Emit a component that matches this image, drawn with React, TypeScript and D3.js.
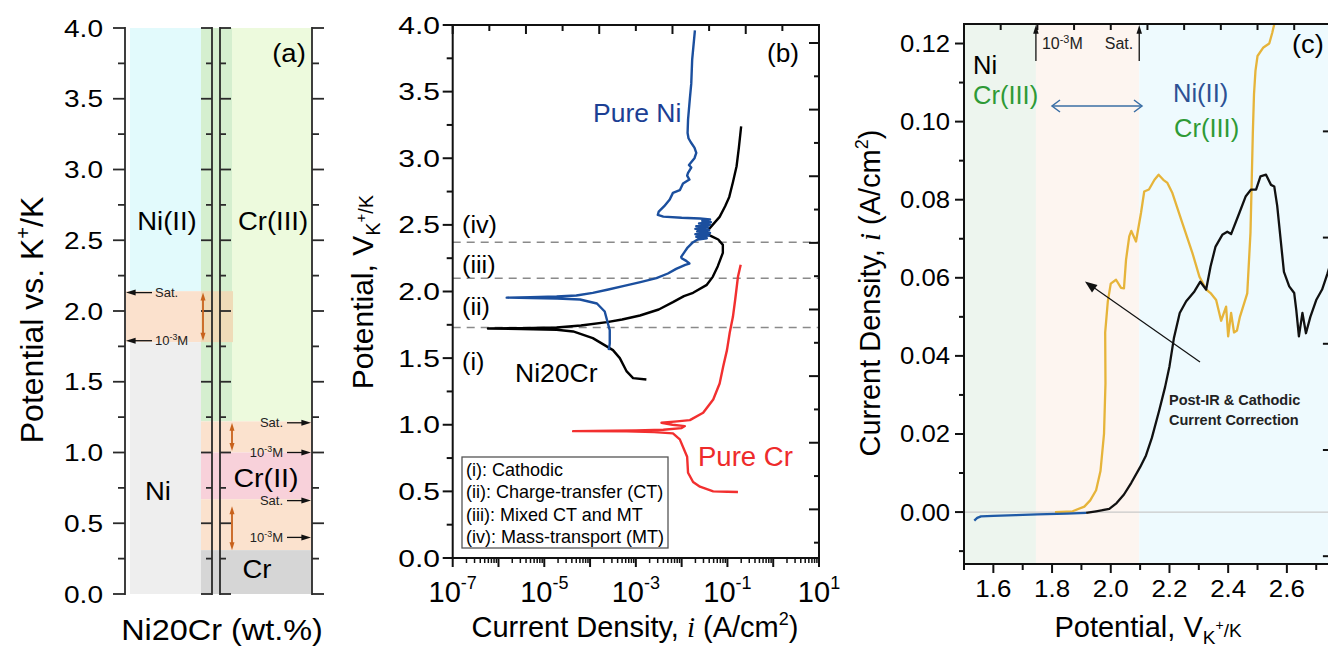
import React from 'react';
import * as d3 from 'd3';

const FONT = "'Liberation Sans', Arial, Helvetica, sans-serif";

// ---------------- Panel (a) data ----------------
const aMajorTicks = [0, 0.5, 1, 1.5, 2, 2.5, 3, 3.5, 4];
const aMinorTicks = [0.25, 0.75, 1.25, 1.75, 2.25, 2.75, 3.25, 3.75];
const niBands = [
  { key: 'ni2', lo: 2.14, hi: 4.0 },
  { key: 'mix', lo: 1.78, hi: 2.14 },
  { key: 'ni', lo: 0, hi: 1.78 },
];
const crBands = [
  { key: 'cr3', lo: 1.22, hi: 4.0 },
  { key: 'mix', lo: 1.0, hi: 1.22 },
  { key: 'cr2', lo: 0.67, hi: 1.0 },
  { key: 'mix', lo: 0.31, hi: 0.67 },
  { key: 'cr', lo: 0, hi: 0.31 },
];
const niMarkers = [
  { label: 'Sat.', v: 2.13 },
  { label: '10-3M', v: 1.79 },
];
const crMarkers = [
  { label: 'Sat.', v: 1.21 },
  { label: '10-3M', v: 1.0 },
  { label: 'Sat.', v: 0.66 },
  { label: '10-3M', v: 0.4 },
];
const niRanges = [[1.79, 2.13]];
const crRanges = [[1.01, 1.21], [0.31, 0.62]];

// ---------------- Panel (b) data: [log10(i), V] ----------------
const bDashed = [2.37, 2.1, 1.73];
const bPureNi = [
  [-3.59, 1.56], [-3.57, 1.61], [-3.57, 1.71], [-3.61, 1.76], [-3.68, 1.85], [-3.85, 1.91],
  [-4.22, 1.94], [-4.72, 1.948], [-5.3, 1.951], [-5.82, 1.954], [-5.3, 1.957], [-4.73, 1.962],
  [-4.3, 1.97], [-3.94, 1.99], [-3.6, 2.015], [-3.28, 2.04], [-2.9, 2.07], [-2.55, 2.1],
  [-2.3, 2.135], [-2.12, 2.17], [-1.92, 2.2], [-1.83, 2.21], [-1.9, 2.23], [-2.0, 2.25],
  [-2.01, 2.26], [-1.95, 2.29], [-1.87, 2.33], [-1.75, 2.37], [-1.65, 2.39],
  [-1.45, 2.4], [-1.68, 2.41], [-1.4, 2.42], [-1.7, 2.43], [-1.38, 2.44], [-1.66, 2.45],
  [-1.4, 2.46], [-1.7, 2.47], [-1.42, 2.48], [-1.68, 2.49], [-1.38, 2.5], [-1.62, 2.51],
  [-1.36, 2.52], [-1.55, 2.53], [-1.38, 2.54], [-1.6, 2.548], [-2.0, 2.553], [-2.4, 2.562],
  [-2.52, 2.575], [-2.5, 2.6], [-2.38, 2.64], [-2.26, 2.69], [-2.19, 2.74], [-2.04, 2.76],
  [-1.97, 2.81], [-1.83, 2.84], [-1.88, 2.87], [-1.86, 2.89], [-1.79, 2.93], [-1.84, 2.95],
  [-1.72, 3.0], [-1.68, 3.04], [-1.72, 3.08], [-1.8, 3.12], [-1.85, 3.15], [-1.87, 3.19],
  [-1.86, 3.29], [-1.82, 3.45], [-1.79, 3.56], [-1.77, 3.74], [-1.71, 3.96],
];
const bNi20Cr = [
  [-2.77, 1.34], [-3.06, 1.35], [-3.2, 1.4], [-3.35, 1.5], [-3.5, 1.56], [-3.94, 1.65],
  [-4.37, 1.7], [-4.73, 1.713], [-5.5, 1.718], [-6.23, 1.722], [-5.5, 1.725], [-4.73, 1.73],
  [-4.2, 1.745], [-3.63, 1.77], [-3.3, 1.79], [-2.91, 1.82], [-2.5, 1.865], [-2.19, 1.92],
  [-1.95, 1.965], [-1.75, 1.99], [-1.45, 2.05], [-1.32, 2.11], [-1.21, 2.19], [-1.1, 2.29],
  [-1.1, 2.35], [-1.2, 2.39], [-1.32, 2.41], [-1.5, 2.44], [-1.4, 2.47], [-1.17, 2.56],
  [-1.05, 2.64], [-0.96, 2.71], [-0.88, 2.82], [-0.8, 2.94], [-0.75, 3.08], [-0.7, 3.24],
];
const bPureCr = [
  [-0.77, 0.495], [-1.0, 0.497], [-1.31, 0.5], [-1.6, 0.535], [-1.75, 0.57], [-1.86, 0.64],
  [-1.88, 0.76], [-2.04, 0.89], [-2.19, 0.935], [-2.6, 0.945], [-3.2, 0.95], [-4.37, 0.952],
  [-3.5, 0.955], [-3.0, 0.958], [-2.4, 0.962], [-2.0, 0.975], [-1.93, 0.99], [-2.2, 1.0],
  [-2.44, 1.015], [-2.1, 1.025], [-1.82, 1.035], [-1.53, 1.09], [-1.31, 1.19], [-1.17, 1.31],
  [-1.09, 1.44], [-1.01, 1.56], [-0.95, 1.69], [-0.88, 1.81], [-0.83, 1.94], [-0.77, 2.11],
  [-0.71, 2.2],
];
const bLegend = ['(i): Cathodic', '(ii): Charge-transfer (CT)', '(iii): Mixed CT and MT', '(iv): Mass-transport (MT)'];
const bRegionLabels = [
  { label: '(iv)', v: 2.5 },
  { label: '(iii)', v: 2.2 },
  { label: '(ii)', v: 1.88 },
  { label: '(i)', v: 1.47 },
];
const bDecades = [-7, -6, -5, -4, -3, -2, -1, 0, 1];
const bLabelDecades = [-7, -5, -3, -1, 1];

// ---------------- Panel (c) data: [V, i] ----------------
const cBands = [
  { key: 'ni', lo: 1.5, hi: 1.745 },
  { key: 'mix', lo: 1.745, hi: 2.097 },
  { key: 'ni2', lo: 2.097, hi: 2.75 },
];
const cMarkers = [
  { label: '10-3M', v: 1.745 },
  { label: 'Sat.', v: 2.097 },
];
const cBlue = [
  [1.535, -0.0022], [1.545, -0.0015], [1.558, -0.0011], [1.6, -0.001], [1.677, -0.0008],
  [1.75, -0.0006], [1.85, -0.0004], [1.916, -0.0002],
];
const cGold = [
  [1.81, 0.0], [1.87, 0.0002], [1.91, 0.0014], [1.93, 0.003], [1.95, 0.0056], [1.965, 0.0105],
  [1.977, 0.02], [1.982, 0.033], [1.981, 0.046], [1.99, 0.054], [2.0, 0.0585], [2.018, 0.0595],
  [2.035, 0.0574], [2.045, 0.0573], [2.052, 0.0646], [2.063, 0.0706], [2.07, 0.072],
  [2.086, 0.0693], [2.103, 0.0766], [2.114, 0.0821], [2.13, 0.0826], [2.149, 0.0851],
  [2.163, 0.0864], [2.179, 0.0851], [2.193, 0.0843], [2.21, 0.0817], [2.244, 0.074],
  [2.278, 0.0664], [2.302, 0.0603], [2.325, 0.057], [2.34, 0.0561], [2.359, 0.0543],
  [2.376, 0.049], [2.393, 0.0526], [2.4, 0.045], [2.41, 0.051], [2.42, 0.046], [2.43, 0.0465],
  [2.44, 0.05], [2.465, 0.056], [2.476, 0.0715], [2.48, 0.084], [2.484, 0.097], [2.488, 0.107],
  [2.493, 0.113], [2.5, 0.1168], [2.52, 0.119], [2.54, 0.12], [2.55, 0.1227], [2.562, 0.1265],
];
const cBlack = [
  [1.916, -0.0002], [1.95, 0.0002], [1.995, 0.0008], [2.02, 0.0023], [2.045, 0.0045],
  [2.07, 0.0075], [2.1, 0.0115], [2.12, 0.0145], [2.14, 0.019], [2.165, 0.026], [2.185, 0.032],
  [2.2, 0.0373], [2.215, 0.0445], [2.235, 0.051], [2.257, 0.054], [2.285, 0.0565],
  [2.305, 0.059], [2.325, 0.057], [2.34, 0.0629], [2.357, 0.068], [2.38, 0.071], [2.397, 0.0718],
  [2.41, 0.0712], [2.438, 0.0766], [2.46, 0.0809], [2.478, 0.0826], [2.495, 0.0826],
  [2.51, 0.086], [2.529, 0.0864], [2.546, 0.0838], [2.557, 0.0834], [2.567, 0.0785],
  [2.59, 0.0615], [2.608, 0.0578], [2.625, 0.0561], [2.632, 0.0518], [2.641, 0.045],
  [2.653, 0.051], [2.665, 0.0458], [2.68, 0.05], [2.7, 0.0543], [2.72, 0.057], [2.738, 0.061],
  [2.75, 0.064],
];
const cYMajor = [0, 0.02, 0.04, 0.06, 0.08, 0.1, 0.12];
const cYMinor = [-0.01, 0.01, 0.03, 0.05, 0.07, 0.09, 0.11];
const cXMajor = [1.6, 1.8, 2.0, 2.2, 2.4, 2.6];
const cXMinor = [1.5, 1.7, 1.9, 2.1, 2.3, 2.5, 2.7];

// ---------------- helpers ----------------
function ST({ x, y, sx = 1, rot = 0, anchor = 'start', size, fill = '#000', weight = 'normal', children }: any) {
  return (
    <g transform={`translate(${x},${y}) rotate(${rot}) scale(${sx},1)`}>
      <text textAnchor={anchor} fontSize={size} fill={fill} fontWeight={weight} fontFamily={FONT}>
        {children}
      </text>
    </g>
  );
}

function Conc({ label, sup }: any) {
  if (label === '10-3M') {
    return (
      <>
        <tspan>10</tspan>
        <tspan dy={-sup} fontSize="0.68em">-3</tspan>
        <tspan dy={sup}>M</tspan>
      </>
    );
  }
  return <tspan>{label}</tspan>;
}

function ArrowHead({ x, y, dir, size = 6, fill = '#000' }: any) {
  let p = '';
  if (dir === 'l') p = `M${x},${y} L${x + size * 1.6},${y - size / 2} L${x + size * 1.6},${y + size / 2} Z`;
  if (dir === 'r') p = `M${x},${y} L${x - size * 1.6},${y - size / 2} L${x - size * 1.6},${y + size / 2} Z`;
  if (dir === 'u') p = `M${x},${y} L${x - size / 2},${y + size * 1.6} L${x + size / 2},${y + size * 1.6} Z`;
  if (dir === 'd') p = `M${x},${y} L${x - size / 2},${y - size * 1.6} L${x + size / 2},${y - size * 1.6} Z`;
  return <path d={p} fill={fill} />;
}

// ---------------- Panel (a) ----------------
function PanelA() {
  const yA = d3.scaleLinear().domain([0, 4]).range([594, 28]);
  const AX = 125, L1 = 212, L2 = 220, RX = 312;
  const NI0 = 130, S0 = 201, S1 = 232;
  const niCol: any = { ni2: '#e2fafc', mix: '#fbe1cd', ni: '#eeeeee' };
  const crCol: any = { cr3: '#edfadd', mix: '#fbe2ce', cr2: '#f8d1da', cr: '#d6d6d6' };
  const orange = '#c8621c';
  const ax = '#2a2a2a';
  const fmt = d3.format('.1f');
  return (
    <g>
      {crBands.map((b, i) =>
        b.key === 'cr3' ? (
          <g key={'c' + i}>
            <rect x={S1} y={yA(b.hi)} width={RX - S1} height={yA(b.lo) - yA(b.hi)} fill={crCol.cr3} />
            <rect x={S0} y={yA(b.hi)} width={S1 - S0} height={yA(b.lo) - yA(b.hi)} fill="#d5efcf" />
          </g>
        ) : (
          <rect key={'c' + i} x={S0} y={yA(b.hi)} width={RX - S0} height={yA(b.lo) - yA(b.hi)} fill={crCol[b.key]} />
        )
      )}
      {niBands.map((b, i) =>
        b.key === 'mix' ? (
          <g key={'n' + i}>
            <rect x={AX + 1} y={yA(b.hi)} width={S0 - AX - 1} height={yA(b.lo) - yA(b.hi)} fill={niCol.mix} />
            <rect x={S0} y={yA(b.hi)} width={S1 - S0 + 1} height={yA(b.lo) - yA(b.hi)} fill="#efdbb8" />
          </g>
        ) : (
          <rect key={'n' + i} x={NI0} y={yA(b.hi)} width={S0 - NI0} height={yA(b.lo) - yA(b.hi)} fill={niCol[b.key]} />
        )
      )}
      {[AX, L1, L2, RX].map((x) => (
        <line key={x} x1={x} x2={x} y1={yA(4) - 1} y2={yA(0) + 1} stroke={ax} strokeWidth={1.8} />
      ))}
      {aMajorTicks.map((v) => (
        <g key={'M' + v}>
          <line x1={AX - 12} x2={AX} y1={yA(v)} y2={yA(v)} stroke={ax} strokeWidth={1.8} />
          <line x1={L1 - 11} x2={L1} y1={yA(v)} y2={yA(v)} stroke={ax} strokeWidth={1.8} />
          <line x1={L2} x2={L2 + 11} y1={yA(v)} y2={yA(v)} stroke={ax} strokeWidth={1.8} />
          <line x1={RX} x2={RX + 12} y1={yA(v)} y2={yA(v)} stroke={ax} strokeWidth={1.8} />
          <ST x={103} y={yA(v) + 8.5} sx={1.22} anchor="end" size={23}>{fmt(v)}</ST>
        </g>
      ))}
      {aMinorTicks.map((v) => (
        <g key={'m' + v}>
          <line x1={AX - 7} x2={AX} y1={yA(v)} y2={yA(v)} stroke={ax} strokeWidth={1.8} />
          <line x1={L1 - 6} x2={L1} y1={yA(v)} y2={yA(v)} stroke={ax} strokeWidth={1.8} />
          <line x1={L2} x2={L2 + 6} y1={yA(v)} y2={yA(v)} stroke={ax} strokeWidth={1.8} />
          <line x1={RX} x2={RX + 7} y1={yA(v)} y2={yA(v)} stroke={ax} strokeWidth={1.8} />
        </g>
      ))}
      {niMarkers.map((m, i) => (
        <g key={'nm' + i}>
          <line x1={AX + 6} x2={152} y1={yA(m.v)} y2={yA(m.v)} stroke="#111" strokeWidth={1.3} />
          <ArrowHead x={AX + 1} y={yA(m.v)} dir="l" size={6} fill="#111" />
          <text x={155} y={yA(m.v) + 4.5} fontSize={13} fontFamily={FONT} fill="#222">
            <Conc label={m.label} sup={5} />
          </text>
        </g>
      ))}
      {crMarkers.map((m, i) => (
        <g key={'cm' + i}>
          <line x1={287} x2={RX - 6} y1={yA(m.v)} y2={yA(m.v)} stroke="#111" strokeWidth={1.3} />
          <ArrowHead x={RX - 1} y={yA(m.v)} dir="r" size={6} fill="#111" />
          <text x={283} y={yA(m.v) + 4.5} fontSize={13} fontFamily={FONT} fill="#222" textAnchor="end">
            <Conc label={m.label} sup={5} />
          </text>
        </g>
      ))}
      {niRanges.map((r, i) => (
        <g key={'nr' + i}>
          <line x1={203} x2={203} y1={yA(r[1]) + 6} y2={yA(r[0]) - 6} stroke={orange} strokeWidth={1.8} />
          <ArrowHead x={203} y={yA(r[1])} dir="u" size={5} fill={orange} />
          <ArrowHead x={203} y={yA(r[0])} dir="d" size={5} fill={orange} />
        </g>
      ))}
      {crRanges.map((r, i) => (
        <g key={'cr' + i}>
          <line x1={232} x2={232} y1={yA(r[1]) + 6} y2={yA(r[0]) - 6} stroke={orange} strokeWidth={1.8} />
          <ArrowHead x={232} y={yA(r[1])} dir="u" size={5} fill={orange} />
          <ArrowHead x={232} y={yA(r[0])} dir="d" size={5} fill={orange} />
        </g>
      ))}
      <ST x={167} y={230} sx={1.1} anchor="middle" size={25}>Ni(II)</ST>
      <ST x={273} y={230} sx={1.1} anchor="middle" size={25}>Cr(III)</ST>
      <ST x={158} y={500} sx={1.1} anchor="middle" size={25}>Ni</ST>
      <ST x={266} y={487} sx={1.1} anchor="middle" size={26}>Cr(II)</ST>
      <ST x={257} y={578} sx={1.1} anchor="middle" size={25}>Cr</ST>
      <ST x={289} y={62} sx={1.1} anchor="middle" size={25}>(a)</ST>
      <ST x={222} y={640} sx={1.08} anchor="middle" size={30}>Ni20Cr (wt.%)</ST>
      <g transform="translate(43,320) rotate(-90)">
        <text textAnchor="middle" fontSize={32} fontFamily={FONT}>
          Potential vs. K<tspan dy={-13} fontSize={20}>+</tspan><tspan dy={13}>/K</tspan>
        </text>
      </g>
    </g>
  );
}

// ---------------- Panel (b) ----------------
function PanelB() {
  const X0 = 452.7, X1 = 819, Y0 = 25, Y1 = 558;
  const xB = d3.scaleLog().domain([1e-7, 10]).range([X0, X1]);
  const yB = d3.scaleLinear().domain([0, 4]).range([Y1, Y0]);
  const line = d3.line<number[]>().x((d) => xB(Math.pow(10, d[0]))).y((d) => yB(d[1]));
  const fmt = d3.format('.1f');
  const majorV = d3.range(0, 4.01, 0.5);
  const minorV = d3.range(0.25, 4, 0.5);
  const rightV = d3.range(3.865, 0, -0.25);
  const topT = d3.range(-7, 1.01, 0.8);
  const minors: number[] = [];
  bDecades.forEach((e) => {
    if (e < 1) for (let k = 2; k <= 9; k++) minors.push(k * Math.pow(10, e));
  });
  return (
    <g>
      <defs>
        <clipPath id="clipB">
          <rect x={X0} y={Y0} width={X1 - X0} height={Y1 - Y0} />
        </clipPath>
      </defs>
      {bDashed.map((v) => (
        <line key={v} x1={X0} x2={X1} y1={yB(v)} y2={yB(v)} stroke="#8a8a8a" strokeWidth={1.4} strokeDasharray="8,6" />
      ))}
      <g clipPath="url(#clipB)" fill="none" strokeWidth={2.4} strokeLinejoin="round">
        <path d={line(bPureCr as any) || ''} stroke="#f22f2f" />
        <path d={line(bNi20Cr as any) || ''} stroke="#000" />
        <path d={line(bPureNi as any) || ''} stroke="#1b4f9e" />
      </g>
      <rect x={X0} y={Y0} width={X1 - X0} height={Y1 - Y0} fill="none" stroke="#111" strokeWidth={2} />
      {majorV.map((v) => (
        <g key={'M' + v}>
          <line x1={X0 - 10} x2={X0} y1={yB(v)} y2={yB(v)} stroke="#111" strokeWidth={2} />
          <ST x={440} y={yB(v) + 8.5} sx={1.25} anchor="end" size={24}>{fmt(v)}</ST>
        </g>
      ))}
      {minorV.map((v) => (
        <line key={'m' + v} x1={X0 - 6} x2={X0} y1={yB(v)} y2={yB(v)} stroke="#111" strokeWidth={2} />
      ))}
      {rightV.map((v, i) => (
        <line key={'r' + i} x1={X1 - (i % 2 === 0 ? 10 : 5)} x2={X1} y1={yB(v)} y2={yB(v)} stroke="#111" strokeWidth={2} />
      ))}
      {topT.map((e, i) => (
        <line key={'t' + i} x1={xB(Math.pow(10, e))} x2={xB(Math.pow(10, e))} y1={Y0} y2={Y0 + (i % 2 === 0 ? 9 : 6)} stroke="#111" strokeWidth={2} />
      ))}
      {bDecades.map((e) => (
        <line key={'d' + e} x1={xB(Math.pow(10, e))} x2={xB(Math.pow(10, e))} y1={Y1} y2={Y1 + 9} stroke="#111" strokeWidth={2} />
      ))}
      {minors.map((m, i) => (
        <line key={'mn' + i} x1={xB(m)} x2={xB(m)} y1={Y1} y2={Y1 + 5} stroke="#111" strokeWidth={1.5} />
      ))}
      {bLabelDecades.map((e) => (
        <text key={'l' + e} x={xB(Math.pow(10, e))} y={602} textAnchor="middle" fontSize={29} fontFamily={FONT}>
          10<tspan dy={-13} fontSize={18}>{e}</tspan>
        </text>
      ))}
      {bRegionLabels.map((r) => (
        <ST key={r.label} x={462} y={yB(r.v) + 8} sx={1.05} size={24}>{r.label}</ST>
      ))}
      <ST x={593} y={122} sx={1.02} size={26} fill="#1c3f94">Pure Ni</ST>
      <ST x={515} y={382} sx={1.02} size={26}>Ni20Cr</ST>
      <ST x={698} y={466} sx={1.02} size={27} fill="#ee2b2b">Pure Cr</ST>
      <ST x={767} y={62} sx={1.05} size={25}>(b)</ST>
      <rect x={462} y={457} width={206} height={91} fill="#fff" stroke="#555" strokeWidth={1.3} />
      {bLegend.map((t, i) => (
        <ST key={t} x={466} y={476 + i * 22.3} sx={1.03} size={17.5}>{t}</ST>
      ))}
      <text x={635} y={637} textAnchor="middle" fontSize={29} fontFamily={FONT}>
        Current Density, <tspan fontFamily="'Liberation Serif', serif" fontStyle="italic">i</tspan> (A/cm<tspan dy={-12} fontSize={18}>2</tspan><tspan dy={12}>)</tspan>
      </text>
      <g transform="translate(373,292) rotate(-90)">
        <text textAnchor="middle" fontSize={30} fontFamily={FONT}>
          Potential, V<tspan dy={7} fontSize={20}>K</tspan><tspan dy={-14} fontSize={15}>+</tspan><tspan dy={7} fontSize={20}>/K</tspan>
        </text>
      </g>
    </g>
  );
}

// ---------------- Panel (c) ----------------
function PanelC() {
  const X0 = 964, X1 = 1330.9, Y0 = 24, Y1 = 564;
  const xC = d3.scaleLinear().domain([1.5, 2.75]).range([X0, X1]);
  const yC = d3.scaleLinear().domain([-0.0133, 0.125]).range([Y1, Y0]);
  const line = d3.line<number[]>().x((d) => xC(d[0])).y((d) => yC(d[1]));
  const bandCol: any = { ni: '#edf5ee', mix: '#fdf5f0', ni2: '#eefafe' };
  const topT = d3.range(1.5, 2.76, 0.125);
  const rightT = d3.range(0.0975, -0.013, -0.0272);
  const green = '#2e9a36';
  const blue = '#2c5194';
  return (
    <g>
      <defs>
        <clipPath id="clipC">
          <rect x={X0} y={Y0} width={X1 - X0} height={Y1 - Y0} />
        </clipPath>
      </defs>
      {cBands.map((b) => (
        <rect key={b.key} x={xC(b.lo)} y={Y0} width={xC(b.hi) - xC(b.lo)} height={Y1 - Y0} fill={bandCol[b.key]} />
      ))}
      <line x1={X0} x2={X1} y1={yC(0)} y2={yC(0)} stroke="#c9c9c9" strokeWidth={1.3} />
      <g clipPath="url(#clipC)" fill="none" strokeWidth={2.3} strokeLinejoin="round">
        <path d={line(cGold as any) || ''} stroke="#e6b43a" />
        <path d={line(cBlack as any) || ''} stroke="#111" />
        <path d={line(cBlue as any) || ''} stroke="#1f5aa6" />
      </g>
      <rect x={X0} y={Y0} width={X1 - X0} height={Y1 - Y0} fill="none" stroke="#111" strokeWidth={2} />
      {cYMajor.map((v) => (
        <g key={'M' + v}>
          <line x1={X0 - 9} x2={X0} y1={yC(v)} y2={yC(v)} stroke="#111" strokeWidth={2} />
          <ST x={950} y={yC(v) + 8.5} sx={1.07} anchor="end" size={24}>{d3.format('.2f')(v)}</ST>
        </g>
      ))}
      {cYMinor.map((v) => (
        <line key={'m' + v} x1={X0 - 5} x2={X0} y1={yC(v)} y2={yC(v)} stroke="#111" strokeWidth={2} />
      ))}
      {cXMajor.map((v) => (
        <g key={'X' + v}>
          <line x1={xC(v)} x2={xC(v)} y1={Y1} y2={Y1 + 9} stroke="#111" strokeWidth={2} />
          <ST x={xC(v)} y={597} sx={1.08} anchor="middle" size={24}>{d3.format('.1f')(v)}</ST>
        </g>
      ))}
      {cXMinor.map((v) => (
        <line key={'x' + v} x1={xC(v)} x2={xC(v)} y1={Y1} y2={Y1 + 6} stroke="#111" strokeWidth={2} />
      ))}
      {topT.map((v, i) => (
        <line key={'t' + i} x1={xC(v)} x2={xC(v)} y1={Y0} y2={Y0 + 6} stroke="#111" strokeWidth={2} />
      ))}
      {rightT.map((v, i) => (
        <line key={'r' + i} x1={X1 - 8} x2={X1} y1={yC(v)} y2={yC(v)} stroke="#111" strokeWidth={2} />
      ))}
      {cMarkers.map((m, i) => (
        <g key={'cm' + i}>
          <line x1={xC(m.v)} x2={xC(m.v)} y1={61} y2={Y0 + 8} stroke="#111" strokeWidth={1.3} />
          <ArrowHead x={xC(m.v)} y={Y0 + 1} dir="u" size={5.5} fill="#111" />
          <text x={i === 0 ? xC(m.v) + 6 : xC(m.v) - 6} y={49} textAnchor={i === 0 ? 'start' : 'end'} fontSize={16} fontFamily={FONT} fill="#222">
            <Conc label={m.label} sup={6} />
          </text>
        </g>
      ))}
      <ST x={973} y={74} sx={1.02} size={25}>Ni</ST>
      <ST x={973} y={104} sx={1.02} size={25} fill={green}>Cr(III)</ST>
      <ST x={1173} y={102} sx={1.02} size={25} fill={blue}>Ni(II)</ST>
      <ST x={1174} y={137} sx={1.02} size={25} fill={green}>Cr(III)</ST>
      <ST x={1292} y={53} sx={1.05} size={26}>(c)</ST>
      <g stroke="#3a6ea5" strokeWidth={1.5} fill="none">
        <line x1={1052} x2={1142} y1={106} y2={106} />
        <path d="M1060,100 L1052,106 L1060,112" />
        <path d="M1134,100 L1142,106 L1134,112" />
      </g>
      <line x1={1200} y1={362} x2={1093} y2={287} stroke="#111" strokeWidth={1.2} />
      <path d="M1085,281.5 L1097.5,285 L1092,292.5 Z" fill="#111" />
      <ST x={1169} y={405} size={14.5} weight="bold" fill="#222">Post-IR &amp; Cathodic</ST>
      <ST x={1169} y={425} size={14.5} weight="bold" fill="#222">Current Correction</ST>
      <text x={1148} y={637} textAnchor="middle" fontSize={29} fontFamily={FONT}>
        Potential, V<tspan dy={7} fontSize={19}>K</tspan><tspan dy={-14} fontSize={14}>+</tspan><tspan dy={7} fontSize={19}>/K</tspan>
      </text>
      <g transform="translate(880,293) rotate(-90)">
        <text textAnchor="middle" fontSize={29} fontFamily={FONT}>
          Current Density, <tspan fontFamily="'Liberation Serif', serif" fontStyle="italic">i</tspan> (A/cm<tspan dy={-12} fontSize={18}>2</tspan><tspan dy={12}>)</tspan>
        </text>
      </g>
    </g>
  );
}

export default function App() {
  return (
    <svg
      width={1328}
      height={647}
      viewBox="0 0 1328 647"
      style={{ position: 'absolute', left: 0, top: 0, background: '#fff' }}
      fontFamily={FONT}
    >
      <rect x={0} y={0} width={1328} height={647} fill="#fff" />
      <PanelA />
      <PanelB />
      <PanelC />
    </svg>
  );
}
